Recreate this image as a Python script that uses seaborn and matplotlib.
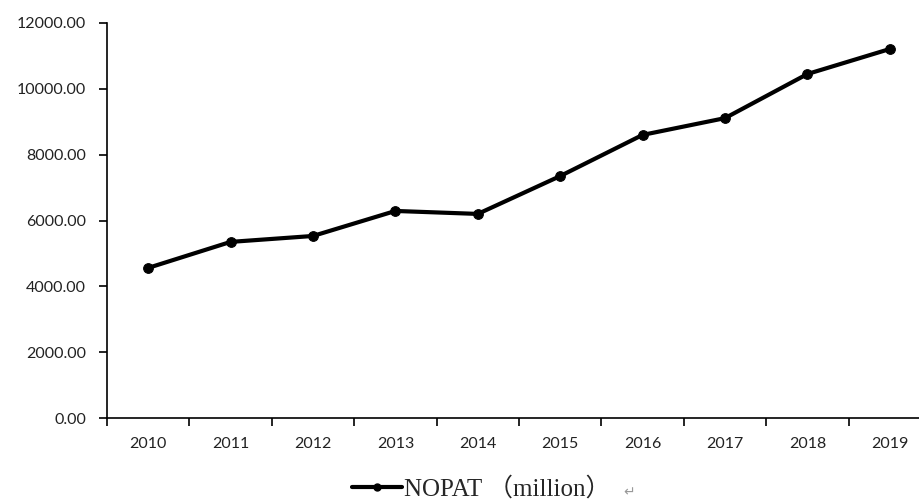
import pandas as pd
import seaborn as sns
import matplotlib.pyplot as plt
from matplotlib.lines import Line2D

# Data
years = [2010, 2011, 2012, 2013, 2014, 2015, 2016, 2017, 2018, 2019]
nopat = [4560, 5350, 5530, 6290, 6200, 7350, 8600, 9110, 10450, 11210]
y_ticks = [0, 2000, 4000, 6000, 8000, 10000, 12000]
legend_label = "NOPAT （million）"

df = pd.DataFrame({"year": years, "nopat": nopat})

sns.set_style("white")
plt.rcParams["font.family"] = ["Lato", "DejaVu Sans"]

fig = plt.figure(figsize=(9.19, 5.01), dpi=100)
ax = fig.add_axes([107 / 919, 1 - 418 / 501, 824 / 919, 395 / 501])

sns.lineplot(data=df, x="year", y="nopat", ax=ax, color="black", linewidth=3,
             marker="o", markersize=7, markeredgecolor="black")

ax.set_xlim(2009.5, 2019.5)
ax.set_ylim(0, 12000)
ax.set_xlabel("")
ax.set_ylabel("")

# boundary ticks without labels, year labels at centres
ax.set_xticks([y - 0.5 for y in years] + [2019.5])
ax.set_xticklabels([])
ax.set_xticks(years, minor=True)
ax.set_xticklabels([str(y) for y in years], minor=True, fontsize=11.5)
ax.tick_params(axis="x", which="major", bottom=True, direction="out", length=6, width=1.2,
               color="black")
ax.tick_params(axis="x", which="minor", bottom=True, length=0, pad=14, labelcolor="#222222")

ax.set_yticks(y_ticks)
ax.set_yticklabels([f"{v:.2f}" for v in y_ticks], fontsize=11.5)
ax.tick_params(axis="y", left=True, direction="out", length=6, width=1.2, color="black",
               pad=9, labelcolor="#222222")

for side in ["top", "right"]:
    ax.spines[side].set_visible(False)
for side in ["left", "bottom"]:
    ax.spines[side].set_color("black")
    ax.spines[side].set_linewidth(1.2)

handle = Line2D([0], [0], color="black", lw=3, marker="o", markersize=5)
fig.legend([handle], [legend_label], loc="center", bbox_to_anchor=(481 / 919, 1 - 489 / 501),
           frameon=False, handlelength=2.0, handletextpad=0.1,
           prop={"family": ["Liberation Serif", "Noto Sans CJK SC", "DejaVu Sans"], "size": 18})
fig.text(629 / 919, 1 - 492 / 501, "\u21b5", color="#999999", fontsize=10,
         ha="center", va="center", family=["DejaVu Sans"])

fig.savefig("out.png", dpi=100)
